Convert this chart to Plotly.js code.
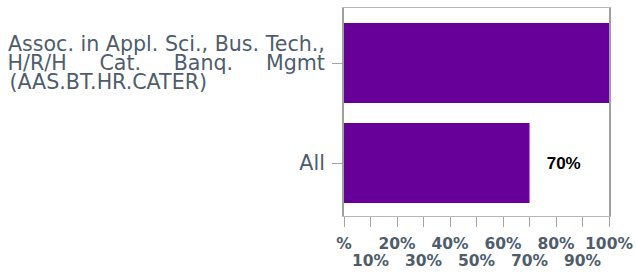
<!DOCTYPE html>
<html>
<head>
<meta charset="utf-8">
<script src="https://cdn.plot.ly/plotly-3.0.1.min.js"></script>
<style>html,body{margin:0;padding:0;background:#fff;}#chart{width:636px;height:272px;}</style>
</head>
<body>
<div id="chart"></div>
<script>
// Data
var categories = ["All", "Assoc. in Appl. Sci., Bus. Tech., H/R/H Cat. Banq. Mgmt (AAS.BT.HR.CATER)"];
var categoryLabels = [
  "All",
  "Assoc. in Appl. Sci., Bus. Tech.,<br>H/R/H&nbsp;&nbsp;&nbsp;&nbsp;&nbsp;Cat.&nbsp;&nbsp;&nbsp;&nbsp;&nbsp;Banq.&nbsp;&nbsp;&nbsp;&nbsp;&nbsp;Mgmt<br>(AAS.BT.HR.CATER)&nbsp;&nbsp;&nbsp;&nbsp;&nbsp;&nbsp;&nbsp;&nbsp;&nbsp;&nbsp;&nbsp;&nbsp;&nbsp;&nbsp;&nbsp;&nbsp;&nbsp;&nbsp;"
];
var values = [0.70, 1.00];
var barLabels = ["70%", ""];
var tickValues = [0, 0.1, 0.2, 0.3, 0.4, 0.5, 0.6, 0.7, 0.8, 0.9, 1.0];
var tickLabels = ["%", "<br>10%", "20%", "<br>30%", "40%", "<br>50%", "60%", "<br>70%", "80%", "<br>90%", "100%"];

var trace = {
  type: "bar",
  orientation: "h",
  y: categories,
  x: values,
  text: barLabels,
  texttemplate: "&nbsp;&nbsp;&nbsp;%{text}",
  textposition: "outside",
  cliponaxis: true,
  textfont: {family: "Liberation Sans, Arial, sans-serif", size: 17, color: "#000000", weight: "bold"},
  marker: {color: "#660099"},
  hoverinfo: "none"
};

var layout = {
  width: 636,
  height: 272,
  margin: {l: 344, r: 27, t: 8, b: 56, pad: 0},
  paper_bgcolor: "#ffffff",
  plot_bgcolor: "#ffffff",
  showlegend: false,
  bargap: 0.2,
  xaxis: {
    range: [0, 1],
    tickmode: "array",
    tickvals: tickValues,
    ticktext: tickLabels,
    tickangle: 0,
    ticks: "outside",
    ticklen: 10,
    tickcolor: "#a6a6a6",
    tickwidth: 1,
    ticklabelstandoff: 3,
    showgrid: false,
    zeroline: false,
    showline: true,
    linecolor: "#b8b8b8",
    linewidth: 1,
    mirror: true,
    tickfont: {family: "DejaVu Sans, Verdana, sans-serif", size: 15.5, color: "#4e5d6c", weight: "bold"},
    fixedrange: true
  },
  yaxis: {
    type: "category",
    categoryorder: "array",
    categoryarray: categories,
    tickmode: "array",
    tickvals: categories,
    ticktext: categoryLabels,
    range: [-0.53, 1.55],
    ticks: "outside",
    ticklen: 10,
    tickcolor: "#a6a6a6",
    tickwidth: 1,
    ticklabelstandoff: 3,
    showgrid: false,
    zeroline: false,
    showline: true,
    linecolor: "#a0a0a0",
    linewidth: 2,
    mirror: true,
    tickfont: {family: "DejaVu Sans, Verdana, sans-serif", size: 20.6, color: "#4e5d6c"},
    fixedrange: true
  }
};

Plotly.newPlot("chart", [trace], layout, {displayModeBar: false, staticPlot: true}).then(function () {
  // tighten line spacing of multi-line labels (keeps block anchored as plotly placed it)
  var ytexts = document.querySelectorAll("#chart .ytick text");
  ytexts.forEach(function (t) {
    var lines = t.querySelectorAll("tspan.line");
    var n = lines.length;
    if (n < 2) return;
    var d0 = parseFloat(lines[0].getAttribute("dy")) || 0;
    var spacing = 0.92;
    var offset = (n - 1) * (1.3 - spacing) / 2;
    lines.forEach(function (ln, k) {
      ln.setAttribute("dy", (d0 + offset + k * spacing) + "em");
    });
  });
  var xtexts = document.querySelectorAll("#chart .xtick text");
  xtexts.forEach(function (t) {
    var lines = t.querySelectorAll("tspan.line");
    if (lines.length < 2) return;
    var d0 = parseFloat(lines[0].getAttribute("dy")) || 0;
    lines.forEach(function (ln, k) {
      ln.setAttribute("dy", (d0 + k * 1.12) + "em");
    });
  });
});
</script>
</body>
</html>
